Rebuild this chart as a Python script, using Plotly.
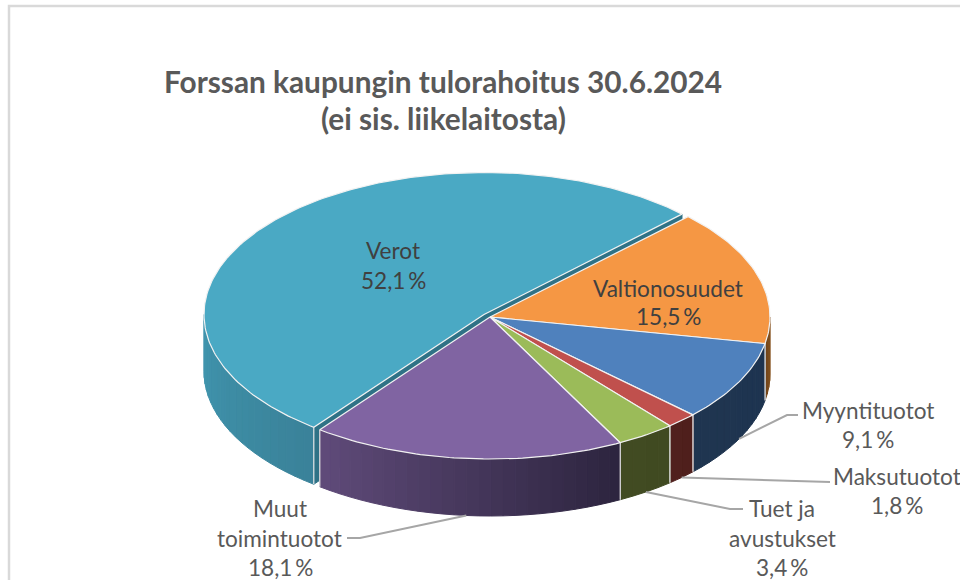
import math
import plotly.graph_objects as go

# --- data ---
categories = ["Verot", "Valtionosuudet", "Myyntituotot", "Maksutuotot", "Tuet ja avustukset", "Muut toimintuotot"]
values = [52.1, 15.5, 9.1, 1.8, 3.4, 18.1]
title_lines = ["Forssan kaupungin tulorahoitus 30.6.2024", "(ei sis. liikelaitosta)"]

# --- styling / geometry ---
top_colors = ["#4aa9c4", "#f59744", "#4f81bd", "#c0504d", "#9bbb59", "#8064a2"]
# wall shade: (colour at start angle, colour at end angle) for each slice
wall_colors = [
    ((0x3a, 0x82, 0x99), (0x40, 0x95, 0xae)),
    ((0x8a, 0x55, 0x20), (0x70, 0x44, 0x18)),
    ((0x1e, 0x34, 0x50), (0x1f, 0x35, 0x50)),
    ((0x4f, 0x1f, 0x1c), (0x50, 0x20, 0x1d)),
    ((0x40, 0x4a, 0x21), (0x41, 0x4b, 0x22)),
    ((0x2c, 0x24, 0x3e), (0x60, 0x4b, 0x7a)),
]
CX, CY, RX, RY, DEPTH = 490.0, 317.0, 280.0, 142.0, 57.0
START_ANGLE = 45.0  # clockwise from north, where Valtionosuudet begins
VEROT_SHIFT = (-6.0, -2.5)
TEXT_IN, TEXT_OUT, LEADER = "#404040", "#595959", "#a6a6a6"
FONT = "Lato"

total = sum(values)
order = [1, 2, 3, 4, 5, 0]  # clockwise from START_ANGLE
spans = {}
a = START_ANGLE
for i in order:
    b = a + values[i] / total * 360.0
    spans[i] = (a, b)
    a = b


def pt(angle, i, dz=0.0, r=1.0):
    sx, sy = VEROT_SHIFT if i == 0 else (0.0, 0.0)
    t = math.radians(angle)
    return (CX + sx + RX * r * math.sin(t), CY + sy - RY * r * math.cos(t) + dz)


def arc(i, a0, a1, dz=0.0):
    n = max(2, int(abs(a1 - a0) / 1.0))
    return [pt(a0 + (a1 - a0) * k / n, i, dz) for k in range(n + 1)]


def poly(fig, points, fill, line=None, width=1.0):
    xs = [p[0] for p in points] + [points[0][0]]
    ys = [p[1] for p in points] + [points[0][1]]
    fig.add_trace(go.Scatter(x=xs, y=ys, mode="lines", fill="toself", fillcolor=fill,
                             line=dict(color=line or fill, width=width),
                             hoverinfo="skip", showlegend=False))


def path(fig, points, color, width):
    fig.add_trace(go.Scatter(x=[p[0] for p in points], y=[p[1] for p in points], mode="lines",
                             line=dict(color=color, width=width), hoverinfo="skip", showlegend=False))


fig = go.Figure()

# Cut faces of the pulled-out slice
v0, v1 = spans[0]
apex_v = pt(0, 0, 0, 0)
apex_vb = pt(0, 0, DEPTH, 0)
for ang in (v0, v1):
    poly(fig, [apex_v, pt(ang, 0), pt(ang, 0, DEPTH), apex_vb], "#2f7286")

# Outer walls, built from thin shaded strips over the visible front half
for i in [0, 1, 2, 3, 4, 5]:
    a0, b0 = spans[i]
    candidates = [(a0, b0), (a0 - 360, b0 - 360)]
    for lo, hi in candidates:
        lo2, hi2 = max(lo, 90.0), min(hi, 270.0)
        if hi2 <= lo2:
            continue
        c0, c1 = wall_colors[i]
        n = max(1, int((hi2 - lo2) / 2.5))
        for k in range(n):
            s = lo2 + (hi2 - lo2) * k / n
            e = lo2 + (hi2 - lo2) * (k + 1) / n
            f = (k + 0.5) / n
            col = "rgb(%d,%d,%d)" % tuple(round(c0[j] + (c1[j] - c0[j]) * f) for j in range(3))
            poly(fig, arc(i, s, e) + arc(i, e, s, DEPTH), col)
        # light seam at the slice boundaries
        for ang in (lo2, hi2):
            if 90.0 < ang < 270.0:
                path(fig, [pt(ang, i), pt(ang, i, DEPTH)], "#e6e6e6", 1.2)

# Top faces
for i in [0, 1, 2, 3, 4, 5]:
    a0, b0 = spans[i]
    poly(fig, [pt(0, i, 0, 0)] + arc(i, a0, b0), top_colors[i], line="#f2f2f2", width=1.2)

# Leader lines: start on the bottom rim at the slice's middle angle
elbows = {
    2: [(787, 415), (798, 415)],
    3: [(818, 482), (830, 482)],
    4: [(730, 509), (743, 509)],
    5: [(360, 538), (347, 538)],
}
for i, rest in elbows.items():
    mid = sum(spans[i]) / 2.0
    path(fig, [pt(mid, i, DEPTH)] + rest, LEADER, 2)


def pct(v):
    return f"{v:.1f}".replace(".", ",") + "\u2009%"


annos = []


def label(text, x, y, size=22.6, color=TEXT_OUT, bold=False):
    annos.append(dict(text=f"<b>{text}</b>" if bold else text, x=x, y=y, xref="x", yref="y",
                      showarrow=False, xanchor="center", yanchor="middle",
                      font=dict(family=FONT, size=size, color=color)))


label(title_lines[0], 443, 81, size=29.8, bold=True)
label(title_lines[1], 443, 118, size=29.8, bold=True)

label(categories[0], 393, 250, color=TEXT_IN)
label(pct(values[0]), 393, 280, color=TEXT_IN)
label(categories[1], 668, 288, color=TEXT_IN)
label(pct(values[1]), 668, 316, color=TEXT_IN)
label(categories[2], 868, 410)
label(pct(values[2]), 868, 439)
label(categories[3], 897, 476)
label(pct(values[3]), 897, 505)
label("Tuet ja", 782, 508)
label("avustukset", 782, 538)
label(pct(values[4]), 782, 567)
label("Muut", 280, 508)
label("toimintuotot", 279, 538)
label(pct(values[5]), 280, 567)

fig.update_layout(
    width=960, height=580, margin=dict(l=0, r=0, t=0, b=0),
    paper_bgcolor="white", plot_bgcolor="white", showlegend=False,
    xaxis=dict(range=[0, 960], visible=False, fixedrange=True),
    yaxis=dict(range=[580, 0], visible=False, fixedrange=True),
    annotations=annos,
    shapes=[
        dict(type="rect", xref="x", yref="y", x0=9, y0=6, x1=975, y1=595, fillcolor="rgba(0,0,0,0)",
             line=dict(color="#d9d9d9", width=2.5), layer="below"),
    ],
)
fig.write_html("out.html", config={"displayModeBar": False},
               post_script="document.body.style.margin='0';document.documentElement.style.overflow='hidden';")
